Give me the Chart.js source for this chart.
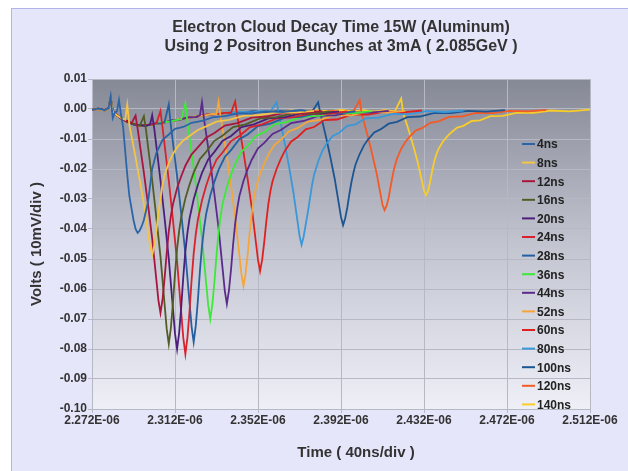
<!DOCTYPE html>
<html>
<head>
<meta charset="utf-8">
<script src="https://cdn.jsdelivr.net/npm/chart.js@4/dist/chart.umd.min.js"></script>
<style>
  html, body { margin: 0; padding: 0; background: #ffffff; }
  body { width: 628px; height: 471px; position: relative; overflow: hidden; }
  #frame { position: absolute; left: 11px; top: 8px; width: 640px; height: 480px;
           border: 1px solid #b4b4ec; background: #e6e6fa; }
  #c { position: absolute; left: 0; top: 0; }
</style>
</head>
<body>
<div id="frame"></div>
<canvas id="c" width="628" height="471"></canvas>
<script>
// ---- Chart text ----
const titleLines = ['Electron Cloud Decay Time 15W (Aluminum)', 'Using 2 Positron Bunches at 3mA ( 2.085GeV )'];
const xTitle = 'Time ( 40ns/div )';
const yTitle = 'Volts ( 10mV/div )';
const xTickLabels = ['2.272E-06','2.312E-06','2.352E-06','2.392E-06','2.432E-06','2.472E-06','2.512E-06'];
const yTickLabels = ['-0.10','-0.09','-0.08','-0.07','-0.06','-0.05','-0.04','-0.03','-0.02','-0.01','0.00','0.01'];

// ---- Series: [time in ns, volts] ----
const s4ns = [[2272,-0.0003],[2275,0.0001],[2278,-0.0004],[2280,0.0003],[2281,0.0042],[2282,-0.0030],[2283,-0.0012],[2284,-0.0008],[2285,0.0030],[2286,-0.0020],[2287,-0.0060],[2289,-0.0220],[2290,-0.0290],[2292,-0.0370],[2293,-0.0400],[2294,-0.0413],[2295,-0.0405],[2296,-0.0390],[2297,-0.0370],[2299,-0.0310],[2301,-0.0200],[2303,-0.0147],[2306,-0.0103],[2309,-0.0085],[2312,-0.0066],[2316,-0.0060],[2320,-0.0046],[2325,-0.0040],[2330,-0.0028],[2336,-0.0024],[2342,-0.0015],[2349,-0.0015],[2356,-0.0008],[2364,-0.0010],[2372,-0.0004],[2375,-0.0006]];
const s8ns = [[2272,-0.0002],[2275,-0.0001],[2278,-0.0005],[2280,0.0002],[2281,0.0038],[2282,-0.0009],[2284,-0.0021],[2286,-0.0030],[2288,-0.0036],[2289,0.0014],[2290,-0.0054],[2293,-0.0161],[2295,-0.0238],[2297,-0.0316],[2299,-0.0411],[2300,-0.0457],[2301,-0.0487],[2302,-0.0455],[2303,-0.0407],[2304,-0.0349],[2305,-0.0300],[2306,-0.0250],[2307,-0.0220],[2309,-0.0180],[2311,-0.0150],[2313,-0.0128],[2316,-0.0105],[2319,-0.0090],[2323,-0.0070],[2327,-0.0058],[2332,-0.0042],[2338,-0.0036],[2345,-0.0023],[2353,-0.0020],[2361,-0.0011],[2370,-0.0012],[2379,-0.0006]];
const s12ns = [[2272,-0.0004],[2275,0.0000],[2278,-0.0003],[2280,0.0002],[2281,0.0036],[2282,-0.0008],[2284,-0.0019],[2286,-0.0032],[2289,-0.0041],[2291,-0.0048],[2293,-0.0022],[2294,-0.0066],[2297,-0.0212],[2299,-0.0319],[2301,-0.0431],[2303,-0.0568],[2304,-0.0637],[2305,-0.0680],[2306,-0.0635],[2307,-0.0563],[2308,-0.0480],[2309,-0.0408],[2310,-0.0357],[2311,-0.0318],[2313,-0.0264],[2315,-0.0224],[2317,-0.0189],[2320,-0.0151],[2323,-0.0128],[2327,-0.0096],[2331,-0.0080],[2336,-0.0055],[2342,-0.0047],[2349,-0.0029],[2357,-0.0024],[2365,-0.0013],[2374,-0.0014],[2383,-0.0007]];
const s16ns = [[2272,-0.0002],[2275,0.0001],[2278,-0.0004],[2280,0.0003],[2281,0.0035],[2282,-0.0009],[2284,-0.0021],[2286,-0.0030],[2289,-0.0043],[2292,-0.0049],[2295,-0.0056],[2297,-0.0024],[2298,-0.0069],[2301,-0.0237],[2303,-0.0361],[2305,-0.0492],[2307,-0.0652],[2308,-0.0733],[2309,-0.0783],[2310,-0.0730],[2311,-0.0647],[2312,-0.0549],[2313,-0.0466],[2314,-0.0406],[2315,-0.0360],[2317,-0.0298],[2319,-0.0252],[2321,-0.0212],[2324,-0.0167],[2327,-0.0143],[2331,-0.0106],[2335,-0.0088],[2340,-0.0060],[2346,-0.0051],[2353,-0.0031],[2361,-0.0027],[2369,-0.0014],[2378,-0.0015],[2387,-0.0008]];
const s20ns = [[2272,-0.0003],[2275,-0.0001],[2278,-0.0003],[2280,0.0002],[2281,0.0037],[2282,-0.0007],[2284,-0.0020],[2286,-0.0032],[2289,-0.0041],[2292,-0.0051],[2295,-0.0054],[2298,-0.0056],[2300,-0.0051],[2301,-0.0021],[2302,-0.0065],[2305,-0.0238],[2307,-0.0365],[2309,-0.0499],[2311,-0.0665],[2312,-0.0748],[2313,-0.0800],[2314,-0.0746],[2315,-0.0660],[2316,-0.0559],[2317,-0.0474],[2318,-0.0412],[2319,-0.0365],[2321,-0.0301],[2323,-0.0253],[2325,-0.0213],[2328,-0.0168],[2331,-0.0143],[2335,-0.0106],[2339,-0.0090],[2344,-0.0060],[2350,-0.0051],[2357,-0.0031],[2365,-0.0027],[2373,-0.0014],[2382,-0.0015],[2391,-0.0008]];
const s24ns = [[2272,-0.0002],[2275,0.0000],[2278,-0.0005],[2280,0.0002],[2281,0.0034],[2282,-0.0008],[2284,-0.0022],[2286,-0.0030],[2289,-0.0044],[2292,-0.0049],[2295,-0.0056],[2298,-0.0053],[2301,-0.0052],[2303,-0.0048],[2305,-0.0007],[2306,-0.0062],[2309,-0.0238],[2311,-0.0369],[2313,-0.0508],[2315,-0.0679],[2316,-0.0763],[2317,-0.0817],[2318,-0.0761],[2319,-0.0674],[2320,-0.0570],[2321,-0.0482],[2322,-0.0418],[2323,-0.0370],[2325,-0.0305],[2327,-0.0256],[2329,-0.0215],[2332,-0.0169],[2335,-0.0144],[2339,-0.0107],[2343,-0.0090],[2348,-0.0061],[2354,-0.0051],[2361,-0.0031],[2369,-0.0027],[2377,-0.0015],[2386,-0.0016],[2395,-0.0008]];
const s28ns = [[2272,-0.0004],[2275,0.0001],[2278,-0.0004],[2280,0.0003],[2281,0.0039],[2282,-0.0008],[2284,-0.0020],[2286,-0.0031],[2289,-0.0042],[2292,-0.0051],[2295,-0.0054],[2298,-0.0055],[2302,-0.0049],[2305,-0.0048],[2307,-0.0043],[2309,0.0015],[2310,-0.0055],[2313,-0.0224],[2315,-0.0349],[2317,-0.0482],[2319,-0.0645],[2320,-0.0726],[2321,-0.0777],[2322,-0.0723],[2323,-0.0640],[2324,-0.0541],[2325,-0.0458],[2326,-0.0397],[2327,-0.0350],[2329,-0.0288],[2331,-0.0242],[2333,-0.0203],[2336,-0.0160],[2339,-0.0137],[2343,-0.0101],[2347,-0.0085],[2352,-0.0057],[2358,-0.0049],[2365,-0.0029],[2373,-0.0026],[2381,-0.0013],[2390,-0.0015],[2399,-0.0008]];
const s36ns = [[2272,-0.0003],[2275,0.0000],[2278,-0.0004],[2280,0.0002],[2281,0.0036],[2282,-0.0009],[2284,-0.0021],[2286,-0.0029],[2289,-0.0043],[2292,-0.0050],[2295,-0.0056],[2298,-0.0053],[2302,-0.0051],[2306,-0.0045],[2310,-0.0041],[2313,-0.0036],[2315,-0.0035],[2317,0.0019],[2318,-0.0044],[2321,-0.0197],[2323,-0.0310],[2325,-0.0431],[2327,-0.0579],[2328,-0.0653],[2329,-0.0700],[2330,-0.0651],[2331,-0.0576],[2332,-0.0487],[2333,-0.0411],[2334,-0.0356],[2335,-0.0314],[2337,-0.0260],[2339,-0.0218],[2341,-0.0183],[2344,-0.0143],[2347,-0.0123],[2351,-0.0090],[2355,-0.0077],[2360,-0.0051],[2366,-0.0043],[2373,-0.0026],[2381,-0.0023],[2389,-0.0012],[2398,-0.0014],[2407,-0.0007]];
const s44ns = [[2272,-0.0002],[2275,0.0001],[2278,-0.0005],[2280,0.0003],[2281,0.0035],[2282,-0.0008],[2284,-0.0019],[2286,-0.0032],[2289,-0.0041],[2292,-0.0051],[2295,-0.0054],[2298,-0.0055],[2302,-0.0049],[2306,-0.0047],[2310,-0.0039],[2314,-0.0036],[2318,-0.0029],[2322,-0.0026],[2324,-0.0021],[2325,0.0023],[2326,-0.0034],[2329,-0.0177],[2331,-0.0285],[2333,-0.0397],[2335,-0.0536],[2336,-0.0606],[2337,-0.0650],[2338,-0.0605],[2339,-0.0535],[2340,-0.0452],[2341,-0.0381],[2342,-0.0331],[2343,-0.0291],[2345,-0.0240],[2347,-0.0201],[2349,-0.0169],[2352,-0.0131],[2355,-0.0113],[2359,-0.0083],[2363,-0.0070],[2368,-0.0047],[2374,-0.0040],[2381,-0.0023],[2389,-0.0021],[2397,-0.0011],[2406,-0.0012],[2415,-0.0006]];
const s52ns = [[2272,-0.0003],[2275,0.0000],[2278,-0.0004],[2280,0.0002],[2281,0.0037],[2282,-0.0009],[2284,-0.0020],[2286,-0.0030],[2289,-0.0043],[2292,-0.0049],[2295,-0.0056],[2298,-0.0053],[2302,-0.0051],[2306,-0.0045],[2310,-0.0041],[2314,-0.0034],[2318,-0.0031],[2322,-0.0024],[2326,-0.0022],[2330,-0.0016],[2332,-0.0017],[2333,0.0025],[2334,-0.0027],[2337,-0.0158],[2339,-0.0256],[2341,-0.0359],[2343,-0.0486],[2344,-0.0549],[2345,-0.0590],[2346,-0.0549],[2347,-0.0485],[2348,-0.0410],[2349,-0.0346],[2350,-0.0299],[2351,-0.0264],[2353,-0.0216],[2355,-0.0182],[2357,-0.0152],[2360,-0.0119],[2363,-0.0103],[2367,-0.0074],[2371,-0.0064],[2376,-0.0042],[2382,-0.0036],[2389,-0.0020],[2397,-0.0021],[2405,-0.0009],[2414,-0.0012],[2423,-0.0006]];
const s60ns = [[2272,-0.0002],[2275,0.0001],[2278,-0.0004],[2280,0.0003],[2281,0.0036],[2282,-0.0008],[2284,-0.0021],[2286,-0.0031],[2289,-0.0042],[2292,-0.0050],[2295,-0.0055],[2298,-0.0054],[2302,-0.0049],[2306,-0.0046],[2310,-0.0040],[2314,-0.0036],[2318,-0.0029],[2322,-0.0026],[2327,-0.0019],[2332,-0.0017],[2336,-0.0013],[2339,-0.0013],[2341,0.0025],[2342,-0.0023],[2345,-0.0144],[2347,-0.0233],[2349,-0.0329],[2351,-0.0445],[2352,-0.0503],[2353,-0.0540],[2354,-0.0503],[2355,-0.0444],[2356,-0.0375],[2357,-0.0316],[2358,-0.0273],[2359,-0.0241],[2361,-0.0199],[2363,-0.0166],[2365,-0.0139],[2368,-0.0108],[2371,-0.0094],[2375,-0.0068],[2379,-0.0060],[2384,-0.0037],[2390,-0.0035],[2397,-0.0019],[2405,-0.0019],[2413,-0.0009],[2422,-0.0011],[2431,-0.0005]];
const s80ns = [[2272,-0.0003],[2275,0.0000],[2278,-0.0004],[2280,0.0002],[2281,0.0038],[2282,-0.0008],[2284,-0.0020],[2286,-0.0031],[2289,-0.0042],[2292,-0.0049],[2295,-0.0056],[2298,-0.0053],[2302,-0.0050],[2306,-0.0045],[2310,-0.0041],[2314,-0.0034],[2318,-0.0031],[2322,-0.0024],[2327,-0.0021],[2332,-0.0015],[2338,-0.0014],[2344,-0.0009],[2349,-0.0011],[2354,-0.0006],[2358,-0.0008],[2361,0.0022],[2362,-0.0015],[2365,-0.0118],[2367,-0.0194],[2369,-0.0275],[2371,-0.0372],[2372,-0.0422],[2373,-0.0453],[2374,-0.0425],[2375,-0.0385],[2376,-0.0345],[2377,-0.0300],[2378,-0.0255],[2379,-0.0220],[2381,-0.0175],[2383,-0.0140],[2385,-0.0116],[2388,-0.0090],[2391,-0.0080],[2395,-0.0056],[2399,-0.0051],[2404,-0.0031],[2410,-0.0029],[2417,-0.0016],[2425,-0.0017],[2433,-0.0007],[2442,-0.0010],[2451,-0.0005]];
const s100ns = [[2272,-0.0003],[2275,0.0001],[2278,-0.0004],[2280,0.0003],[2281,0.0036],[2282,-0.0009],[2284,-0.0021],[2286,-0.0029],[2289,-0.0043],[2292,-0.0051],[2295,-0.0054],[2298,-0.0055],[2302,-0.0049],[2306,-0.0047],[2310,-0.0039],[2314,-0.0036],[2318,-0.0029],[2322,-0.0026],[2327,-0.0019],[2332,-0.0017],[2338,-0.0012],[2344,-0.0012],[2350,-0.0007],[2356,-0.0011],[2362,-0.0006],[2368,-0.0010],[2373,-0.0005],[2378,-0.0009],[2381,0.0022],[2382,-0.0012],[2385,-0.0100],[2387,-0.0165],[2389,-0.0234],[2391,-0.0318],[2392,-0.0360],[2393,-0.0387],[2394,-0.0365],[2395,-0.0330],[2396,-0.0285],[2397,-0.0245],[2398,-0.0212],[2399,-0.0185],[2401,-0.0150],[2403,-0.0122],[2405,-0.0102],[2408,-0.0078],[2411,-0.0068],[2415,-0.0049],[2419,-0.0043],[2424,-0.0027],[2430,-0.0025],[2437,-0.0013],[2445,-0.0014],[2453,-0.0006],[2462,-0.0009],[2471,-0.0004]];
const s120ns = [[2272,-0.0002],[2275,0.0000],[2278,-0.0005],[2280,0.0002],[2281,0.0037],[2282,-0.0008],[2284,-0.0020],[2286,-0.0031],[2289,-0.0042],[2292,-0.0050],[2295,-0.0055],[2298,-0.0054],[2302,-0.0050],[2306,-0.0046],[2310,-0.0040],[2314,-0.0035],[2318,-0.0030],[2322,-0.0025],[2327,-0.0020],[2332,-0.0016],[2338,-0.0014],[2344,-0.0010],[2350,-0.0012],[2356,-0.0007],[2362,-0.0011],[2368,-0.0006],[2373,-0.0010],[2378,-0.0005],[2383,-0.0011],[2388,-0.0006],[2393,-0.0012],[2398,-0.0007],[2401,0.0030],[2402,-0.0016],[2405,-0.0093],[2407,-0.0149],[2409,-0.0209],[2411,-0.0282],[2412,-0.0319],[2413,-0.0337],[2414,-0.0322],[2415,-0.0295],[2416,-0.0255],[2417,-0.0218],[2418,-0.0188],[2419,-0.0165],[2421,-0.0133],[2423,-0.0110],[2425,-0.0093],[2428,-0.0072],[2431,-0.0064],[2435,-0.0046],[2439,-0.0041],[2444,-0.0026],[2450,-0.0025],[2457,-0.0013],[2465,-0.0014],[2473,-0.0006],[2482,-0.0008],[2491,-0.0003]];
const s140ns = [[2272,-0.0003],[2275,0.0001],[2278,-0.0004],[2280,0.0002],[2281,0.0035],[2282,-0.0009],[2284,-0.0020],[2286,-0.0030],[2289,-0.0043],[2292,-0.0050],[2295,-0.0056],[2298,-0.0053],[2302,-0.0051],[2306,-0.0044],[2310,-0.0041],[2314,-0.0034],[2318,-0.0031],[2322,-0.0024],[2327,-0.0021],[2332,-0.0015],[2338,-0.0014],[2344,-0.0009],[2350,-0.0011],[2356,-0.0006],[2362,-0.0010],[2368,-0.0005],[2374,-0.0009],[2380,-0.0004],[2386,-0.0008],[2392,-0.0003],[2398,-0.0008],[2403,-0.0004],[2408,-0.0009],[2413,-0.0004],[2418,-0.0008],[2421,0.0035],[2422,-0.0014],[2425,-0.0079],[2427,-0.0127],[2429,-0.0178],[2431,-0.0241],[2432,-0.0272],[2433,-0.0287],[2434,-0.0272],[2435,-0.0241],[2436,-0.0204],[2437,-0.0173],[2438,-0.0150],[2439,-0.0133],[2441,-0.0110],[2443,-0.0093],[2445,-0.0079],[2448,-0.0062],[2451,-0.0056],[2455,-0.0040],[2459,-0.0038],[2464,-0.0024],[2470,-0.0023],[2477,-0.0012],[2485,-0.0013],[2493,-0.0005],[2502,-0.0008],[2512,-0.0002]];

const seriesLabels = ['4ns','8ns','12ns','16ns','20ns','24ns','28ns','36ns','44ns','52ns','60ns','80ns','100ns','120ns','140ns'];
const seriesPoints = [s4ns, s8ns, s12ns, s16ns, s20ns, s24ns, s28ns, s36ns, s44ns, s52ns, s60ns, s80ns, s100ns, s120ns, s140ns];
const seriesColors = ['#2b65a8','#f3c446','#a8163e','#525c26','#4b1f7a','#d8222e','#245fa0','#3ee83a','#5b2b8c','#f4a63a','#e0201e','#3a98d8','#1d5592','#f45a26','#f8cc2a'];

const FONT = "'Liberation Sans', Arial, Helvetica, sans-serif";

const plotBg = {
  id: 'plotBg',
  beforeDraw(chart) {
    const {ctx, chartArea: a} = chart;
    const g = ctx.createLinearGradient(0, a.top, 0, a.bottom);
    g.addColorStop(0, '#858995');
    g.addColorStop(0.5, '#c2c4d0');
    g.addColorStop(1, '#eeeff7');
    ctx.save();
    ctx.fillStyle = g;
    ctx.fillRect(a.left, a.top, a.right - a.left, a.bottom - a.top);
    ctx.restore();
  }
};

// x-axis title, drawn slightly right of the axis centre as in the reference
const xAxisTitle = {
  id: 'xAxisTitle',
  afterDraw(chart) {
    const {ctx, chartArea: a} = chart;
    ctx.save();
    ctx.font = 'bold 15px ' + FONT;
    ctx.fillStyle = '#333333';
    ctx.textAlign = 'center';
    ctx.textBaseline = 'middle';
    ctx.fillText(xTitle, (a.left + a.right) / 2 + 15, a.bottom + 44);
    ctx.restore();
  }
};

const innerLegend = {
  id: 'innerLegend',
  afterDraw(chart) {
    const {ctx, chartArea: a} = chart;
    ctx.save();
    ctx.font = 'bold 12px ' + FONT;
    ctx.textBaseline = 'middle';
    ctx.textAlign = 'left';
    chart.data.datasets.forEach((ds, i) => {
      const y = a.top + 65 + i * 18.6;
      ctx.strokeStyle = ds.borderColor;
      ctx.lineWidth = 2;
      ctx.beginPath();
      ctx.moveTo(a.right - 68, y);
      ctx.lineTo(a.right - 55, y);
      ctx.stroke();
      ctx.fillStyle = '#222222';
      ctx.fillText(ds.label, a.right - 53, y + 1);
    });
    ctx.restore();
  }
};

new Chart(document.getElementById('c'), {
  type: 'line',
  data: {
    datasets: seriesLabels.map((lab, i) => ({
      label: lab,
      data: seriesPoints[i].map(p => ({x: p[0], y: p[1]})),
      borderColor: seriesColors[i],
      backgroundColor: seriesColors[i],
      borderWidth: 1.8,
      pointRadius: 0,
      tension: 0,
      fill: false
    }))
  },
  options: {
    responsive: false,
    animation: false,
    devicePixelRatio: 1,
    layout: { padding: { left: 12, top: 8, right: 38, bottom: 0 } },
    plugins: {
      legend: { display: false },
      tooltip: { enabled: false },
      title: {
        display: true,
        text: titleLines,
        fullSize: false,
        color: '#333333',
        font: { family: FONT, size: 16, weight: 'bold', lineHeight: 1.2 },
        padding: { top: 10, bottom: 22.6 }
      }
    },
    scales: {
      x: {
        type: 'linear',
        min: 2272, max: 2512,
        afterFit(s) { s.height = 62; },
        ticks: {
          stepSize: 40, autoSkip: false, maxRotation: 0, padding: 0,
          color: '#333333', font: { family: FONT, size: 12, weight: 'bold' },
          callback: (v, i) => xTickLabels[i]
        },
        grid: { color: '#b6b9c4', tickLength: 4, tickColor: '#b6b9c4' },
        border: { color: '#b6b9c4' },
        title: { display: false, text: xTitle }
      },
      y: {
        type: 'linear',
        min: -0.10, max: 0.01,
        afterFit(s) { s.width = 80; },
        ticks: {
          stepSize: 0.01, autoSkip: false, padding: 1,
          color: '#333333', font: { family: FONT, size: 12, weight: 'bold' },
          callback: (v) => yTickLabels[Math.round(v * 100) + 10]
        },
        grid: { color: '#b6b9c4', tickLength: 4, tickColor: '#b6b9c4' },
        border: { color: '#b6b9c4' },
        title: {
          display: true, text: yTitle, color: '#333333',
          font: { family: FONT, size: 15, weight: 'bold', lineHeight: 1.2 },
          padding: { top: 16, bottom: 0 }
        }
      }
    }
  },
  plugins: [plotBg, xAxisTitle, innerLegend]
});
</script>
</body>
</html>
